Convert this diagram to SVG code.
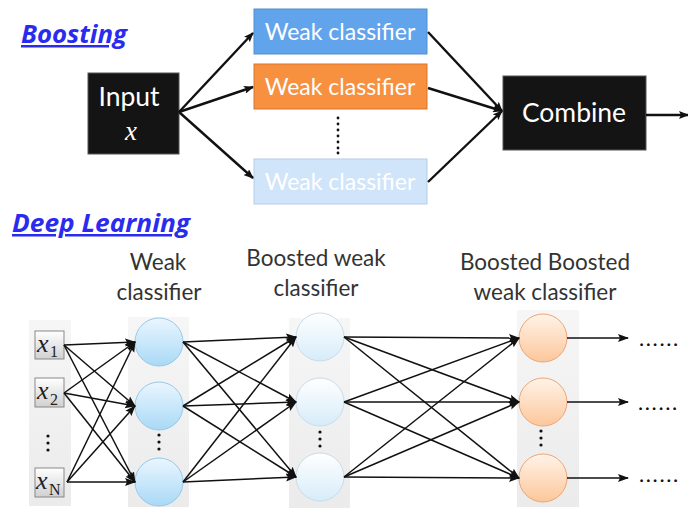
<svg xmlns="http://www.w3.org/2000/svg" width="688" height="509" viewBox="0 0 688 509">
<defs>
<style>
.title{font-family:"Open Sans","Liberation Sans",sans-serif;font-weight:bold;font-style:italic;font-size:25px;fill:#2b2bef;text-decoration:underline}
.wc{font-family:Lato,"Liberation Sans",sans-serif;font-size:23px;fill:#ffffff;text-anchor:middle}
.bk{font-family:Lato,"Liberation Sans",sans-serif;font-size:26.5px;fill:#ffffff;text-anchor:middle}
.lbl{font-family:Lato,"Liberation Sans",sans-serif;font-size:22.5px;fill:#333333;text-anchor:middle}
.xv{font-family:"Liberation Serif",serif;font-style:italic;font-size:26px;fill:#222}
.sub{font-family:"Liberation Serif",serif;font-size:16px;fill:#222}
.ba{stroke:#111;stroke-width:2.4;fill:none;marker-end:url(#ah)}
.dl{stroke:#111;stroke-width:1.5;fill:none;marker-end:url(#ah2)}
.dot{fill:#111}
.panel{fill:url(#pg)}
.ell{font-family:Lato,"Liberation Sans",sans-serif;font-size:22px;fill:#111;letter-spacing:1.6px}
</style>
<marker id="ah" markerWidth="10" markerHeight="8" refX="9" refY="4" orient="auto" markerUnits="userSpaceOnUse">
<path d="M0,0 L10,4 L0,8 L2,4 z" fill="#111"/>
</marker>
<marker id="ah2" markerWidth="11" markerHeight="9" refX="10" refY="4.5" orient="auto" markerUnits="userSpaceOnUse">
<path d="M0,0.5 L11,4.5 L0,8.5 L2,4.5 z" fill="#111"/>
</marker>
<linearGradient id="pg" x1="0" y1="0" x2="0" y2="1">
<stop offset="0" stop-color="#f6f6f6"/>
<stop offset="1" stop-color="#ebebeb"/>
</linearGradient>
<linearGradient id="xg" x1="0" y1="0" x2="0" y2="1">
<stop offset="0" stop-color="#ffffff"/>
<stop offset="1" stop-color="#d0d0d0"/>
</linearGradient>
<linearGradient id="c1" x1="0" y1="0" x2="0" y2="1">
<stop offset="0" stop-color="#eaf6fe"/>
<stop offset="1" stop-color="#a9d9f6"/>
</linearGradient>
<linearGradient id="c2" x1="0" y1="0" x2="0" y2="1">
<stop offset="0" stop-color="#ffffff"/>
<stop offset="1" stop-color="#d6ecf9"/>
</linearGradient>
<linearGradient id="c3" x1="0" y1="0" x2="0" y2="1">
<stop offset="0" stop-color="#fff3e8"/>
<stop offset="1" stop-color="#fcc79b"/>
</linearGradient>
</defs>
<rect width="688" height="509" fill="#ffffff"/>

<text class="title" x="21" y="43" textLength="106" lengthAdjust="spacingAndGlyphs">Boosting</text>
<text class="title" x="12" y="232" textLength="178" lengthAdjust="spacingAndGlyphs">Deep Learning</text>

<g id="input">
<rect x="88" y="73" width="91" height="81" fill="#141414" stroke="#555" stroke-width="1"/>
<text class="bk" x="129" y="106">Input</text>
<text x="131" y="140" style="font-family:'Liberation Serif',serif;font-style:italic;font-size:27px;fill:#fff;text-anchor:middle">x</text>
</g>
<g id="wc1">
<rect x="254" y="9" width="173" height="45" fill="#62a4ec" stroke="#4f8fd0" stroke-width="1"/>
<text class="wc" x="340" y="40">Weak classifier</text>
</g>
<g id="wc2">
<rect x="254" y="64" width="173" height="45" fill="#f7903f" stroke="#d9772e" stroke-width="1"/>
<text class="wc" x="340" y="95">Weak classifier</text>
</g>
<g id="wc3">
<rect x="254" y="159" width="173" height="45" fill="#d0e4fa" stroke="#b5cde8" stroke-width="1"/>
<text class="wc" x="340" y="190">Weak classifier</text>
</g>
<g id="wcdots">
<circle class="dot" cx="338" cy="118" r="1.4"/>
<circle class="dot" cx="338" cy="124" r="1.4"/>
<circle class="dot" cx="338" cy="130" r="1.4"/>
<circle class="dot" cx="338" cy="136" r="1.4"/>
<circle class="dot" cx="338" cy="142" r="1.4"/>
<circle class="dot" cx="338" cy="148" r="1.4"/>
<circle class="dot" cx="338" cy="153" r="1.4"/>
</g>
<g id="combine">
<rect x="503" y="76" width="143" height="74" fill="#141414" stroke="#555" stroke-width="1"/>
<text class="bk" x="574" y="122">Combine</text>
</g>

<g id="labels">
<text class="lbl" x="158" y="270">Weak</text>
<text class="lbl" x="159" y="300">classifier</text>
<text class="lbl" x="316" y="266">Boosted weak</text>
<text class="lbl" x="316" y="296">classifier</text>
<text class="lbl" x="545" y="270">Boosted Boosted</text>
<text class="lbl" x="545" y="300">weak classifier</text>
</g>

<g id="panels">
<rect class="panel" x="29" y="320" width="42" height="186"/>
<rect class="panel" x="128" y="317" width="61" height="190"/>
<rect class="panel" x="289" y="318" width="61" height="190"/>
<rect class="panel" x="517" y="310" width="62" height="197"/>
</g>

<g id="x1">
<rect x="35" y="331" width="29" height="28" fill="url(#xg)" stroke="#888" stroke-width="1"/>
<text class="xv" x="37" y="352">x</text><text class="sub" x="50" y="357">1</text>
</g>
<g id="x2">
<rect x="35" y="378" width="29" height="29" fill="url(#xg)" stroke="#888" stroke-width="1"/>
<text class="xv" x="37" y="399">x</text><text class="sub" x="50" y="405">2</text>
</g>
<g id="xN">
<rect x="35" y="468" width="29" height="29" fill="url(#xg)" stroke="#888" stroke-width="1"/>
<text class="xv" x="36" y="489">x</text><text class="sub" x="49" y="495">N</text>
</g>
<g id="xdots">
<circle class="dot" cx="48" cy="436" r="1.6"/>
<circle class="dot" cx="48" cy="443" r="1.6"/>
<circle class="dot" cx="48" cy="450" r="1.6"/>
</g>

<g id="h1a"><circle cx="159" cy="342" r="24" fill="url(#c1)" stroke="#98c8e8" stroke-width="1"/></g>
<g id="h1b"><circle cx="159" cy="406" r="24" fill="url(#c1)" stroke="#98c8e8" stroke-width="1"/></g>
<g id="h1c"><circle cx="159" cy="482" r="24" fill="url(#c1)" stroke="#98c8e8" stroke-width="1"/></g>
<g id="h1dots">
<circle class="dot" cx="159" cy="435" r="1.6"/>
<circle class="dot" cx="159" cy="442" r="1.6"/>
<circle class="dot" cx="159" cy="449" r="1.6"/>
</g>
<g id="h2a"><circle cx="320" cy="337" r="24" fill="url(#c2)" stroke="#c8dcea" stroke-width="1"/></g>
<g id="h2b"><circle cx="320" cy="402" r="24" fill="url(#c2)" stroke="#c8dcea" stroke-width="1"/></g>
<g id="h2c"><circle cx="320" cy="477" r="24" fill="url(#c2)" stroke="#c8dcea" stroke-width="1"/></g>
<g id="h2dots">
<circle class="dot" cx="320" cy="432" r="1.6"/>
<circle class="dot" cx="320" cy="439" r="1.6"/>
<circle class="dot" cx="320" cy="446" r="1.6"/>
</g>
<g id="h3a"><circle cx="543" cy="338" r="24" fill="url(#c3)" stroke="#eea575" stroke-width="1"/></g>
<g id="h3b"><circle cx="543" cy="402" r="24" fill="url(#c3)" stroke="#eea575" stroke-width="1"/></g>
<g id="h3c"><circle cx="543" cy="478" r="24" fill="url(#c3)" stroke="#eea575" stroke-width="1"/></g>
<g id="h3dots">
<circle class="dot" cx="541" cy="431" r="1.6"/>
<circle class="dot" cx="541" cy="438" r="1.6"/>
<circle class="dot" cx="541" cy="445" r="1.6"/>
</g>
<g id="ellipses">
<text class="ell" x="639" y="346">......</text>
<text class="ell" x="638" y="410">......</text>
<text class="ell" x="639" y="482">......</text>
</g>

<g id="connectors">
<path class="ba" d="M179,112 L253,33"/>
<path class="ba" d="M179,112 L253,87"/>
<path class="ba" d="M179,112 L253,178"/>
<path class="ba" d="M428,32 L502,111"/>
<path class="ba" d="M428,88 L502,111"/>
<path class="ba" d="M428,182 L502,111"/>
<path class="ba" d="M646,115 L688,115"/>

<path class="dl" d="M64,345 L135,342"/>
<path class="dl" d="M64,345 L135,406"/>
<path class="dl" d="M64,345 L135,482"/>
<path class="dl" d="M64,393 L135,342"/>
<path class="dl" d="M64,393 L135,406"/>
<path class="dl" d="M64,393 L135,482"/>
<path class="dl" d="M67,482 L135,342"/>
<path class="dl" d="M67,482 L135,406"/>
<path class="dl" d="M67,482 L135,482"/>

<path class="dl" d="M183,342 L296,337"/>
<path class="dl" d="M183,342 L296,402"/>
<path class="dl" d="M183,342 L296,477"/>
<path class="dl" d="M183,406 L296,337"/>
<path class="dl" d="M183,406 L296,402"/>
<path class="dl" d="M183,406 L296,477"/>
<path class="dl" d="M183,482 L296,337"/>
<path class="dl" d="M183,482 L296,402"/>
<path class="dl" d="M183,482 L296,477"/>

<path class="dl" d="M344,337 L519,338"/>
<path class="dl" d="M344,337 L519,402"/>
<path class="dl" d="M344,337 L519,478"/>
<path class="dl" d="M344,402 L519,338"/>
<path class="dl" d="M344,402 L519,402"/>
<path class="dl" d="M344,402 L519,478"/>
<path class="dl" d="M344,477 L519,338"/>
<path class="dl" d="M344,477 L519,402"/>
<path class="dl" d="M344,477 L519,478"/>

<path class="dl" d="M567,338 L628,338"/>
<path class="dl" d="M567,402 L628,402"/>
<path class="dl" d="M567,478 L628,478"/>
</g>
</svg>
